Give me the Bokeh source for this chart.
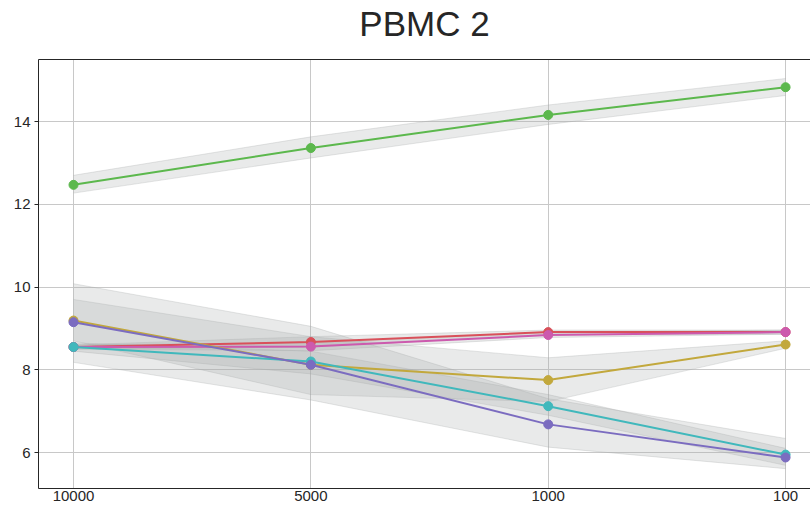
from bokeh.plotting import figure
from bokeh.models import LinearAxis, Range1d, FixedTicker, ColumnDataSource
from bokeh.embed import file_html
from bokeh.resources import INLINE

x_labels = ["10000", "5000", "1000", "100"]
x_pos = [0, 1, 2, 3]

series_names = ["green", "red", "pink", "olive", "teal", "purple"]
colors = ["#5cb84d", "#d9505a", "#cc5aae", "#c2a83c", "#40b8bc", "#7b6cc0"]

green_mean = [12.47, 13.36, 14.16, 14.83]
green_lo = [12.27, 13.12, 13.93, 14.63]
green_hi = [12.70, 13.63, 14.40, 15.04]

red_mean = [8.55, 8.67, 8.91, 8.91]
red_lo = [8.50, 8.55, 8.85, 8.86]
red_hi = [8.60, 8.80, 8.96, 8.96]

pink_mean = [8.55, 8.56, 8.84, 8.91]
pink_lo = [8.50, 8.46, 8.78, 8.86]
pink_hi = [8.60, 8.66, 8.90, 8.96]

olive_mean = [9.19, 8.12, 7.75, 8.61]
olive_lo = [8.70, 7.40, 7.23, 8.52]
olive_hi = [9.70, 8.80, 8.29, 8.70]

teal_mean = [8.55, 8.20, 7.12, 5.95]
teal_lo = [8.45, 7.90, 6.90, 5.69]
teal_hi = [8.65, 8.45, 7.40, 6.10]

purple_mean = [9.15, 8.12, 6.68, 5.88]
purple_lo = [8.18, 7.27, 6.13, 5.61]
purple_hi = [10.08, 9.05, 7.30, 6.34]

means = [green_mean, red_mean, pink_mean, olive_mean, teal_mean, purple_mean]
los = [green_lo, red_lo, pink_lo, olive_lo, teal_lo, purple_lo]
his = [green_hi, red_hi, pink_hi, olive_hi, teal_hi, purple_hi]

FONT = "Liberation Sans"

p = figure(width=810, height=514, output_backend="svg", toolbar_location=None,
           x_range=Range1d(-0.1475, 3.105), y_range=Range1d(5.13, 15.5),
           title="PBMC 2", min_border_left=38, min_border_right=0,
           min_border_bottom=26, min_border_top=10)

p.title.text_font = FONT
p.title.text_font_size = "35px"
p.title.text_font_style = "normal"
p.title.text_color = "#262626"
p.title.align = "center"
p.title.standoff = 3

p.outline_line_color = None
p.background_fill_color = "white"
p.border_fill_color = "white"

# bands
for lo, hi in zip(los, his):
    src = ColumnDataSource(dict(x=x_pos, lo=lo, hi=hi))
    p.varea(x="x", y1="lo", y2="hi", source=src, fill_color="#a9abab", fill_alpha=0.25)
    p.line(x="x", y="lo", source=src, line_color="#a9abab", line_alpha=0.3, line_width=1)
    p.line(x="x", y="hi", source=src, line_color="#a9abab", line_alpha=0.3, line_width=1)

# lines
for m, c in zip(means, colors):
    src = ColumnDataSource(dict(x=x_pos, y=m))
    p.line(x="x", y="y", source=src, line_color=c, line_width=2)
    p.scatter(x="x", y="y", source=src, size=9, fill_color=c, line_color=c)

# axes
p.xaxis.ticker = FixedTicker(ticks=x_pos)
p.xaxis.major_label_overrides = {i: s for i, s in zip(x_pos, x_labels)}
p.yaxis.ticker = FixedTicker(ticks=[6, 8, 10, 12, 14])

for ax in (p.xaxis[0], p.yaxis[0]):
    ax.axis_line_color = "#262626"
    ax.axis_line_width = 1
    ax.major_label_text_font = FONT
    ax.major_label_text_font_size = "15px"
    ax.major_label_text_color = "#262626"
    ax.minor_tick_line_color = None
    ax.major_tick_line_color = "#262626"

p.xaxis.major_tick_out = 0
p.xaxis.major_tick_in = 0
p.xaxis.major_label_standoff = 2
p.yaxis.major_tick_out = 4
p.yaxis.major_tick_in = 0
p.yaxis.major_label_standoff = 4

top_axis = LinearAxis(major_label_text_font_size="0px", major_tick_line_color=None,
                      minor_tick_line_color=None, axis_line_color="#262626",
                      axis_label=" ", axis_label_text_font_size="11px",
                      axis_label_standoff=0)
top_axis.ticker = FixedTicker(ticks=[])
p.add_layout(top_axis, "above")

p.xgrid.grid_line_color = "#c8c8c8"
p.ygrid.grid_line_color = "#c8c8c8"
p.xgrid.grid_line_width = 1
p.ygrid.grid_line_width = 1

open("out.html", "w").write(file_html(p, INLINE))
